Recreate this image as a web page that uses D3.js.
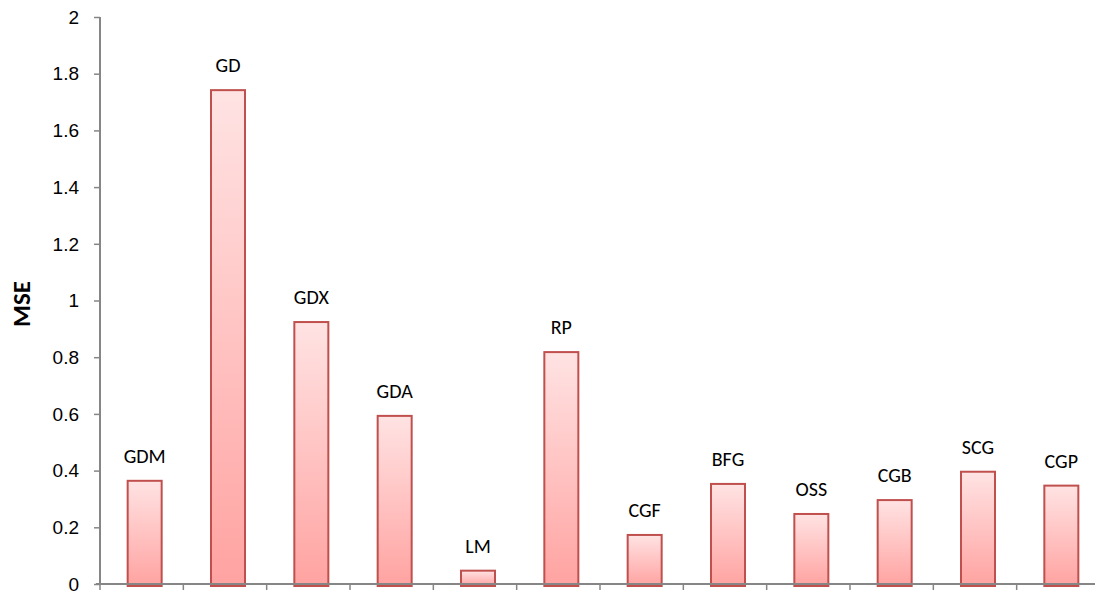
<!DOCTYPE html>
<html>
<head>
<meta charset="utf-8">
<script src="https://cdn.jsdelivr.net/npm/d3@7"></script>
<style>
  html, body { margin: 0; padding: 0; background: #fff; overflow: hidden; }
  svg { display: block; font-family: Carlito, "Open Sans", Lato, sans-serif; }
</style>
</head>
<body>
<svg id="chart" width="1095" height="593"></svg>
<script>
// Training algorithms and their mean squared error
const categories = ["GDM", "GD", "GDX", "GDA", "LM", "RP", "CGF", "BFG", "OSS", "CGB", "SCG", "CGP"];
const mseValues = [0.364, 1.742, 0.924, 0.593, 0.047, 0.818, 0.173, 0.353, 0.247, 0.296, 0.396, 0.347];
const yTicks = [0, 0.2, 0.4, 0.6, 0.8, 1, 1.2, 1.4, 1.6, 1.8, 2];

const svg = d3.select("#chart");
const axisColor = "#868686";

const x = d3.scaleBand().domain(categories).range([100, 1100]).paddingInner(0).paddingOuter(0);
const y = d3.scaleLinear().domain([0, 2]).range([584, 17]);

// Bar gradient: pale pink at the top, deeper salmon at the base
const defs = svg.append("defs");
const grad = defs.append("linearGradient")
  .attr("id", "barFill").attr("x1", 0).attr("y1", 0).attr("x2", 0).attr("y2", 1);
grad.append("stop").attr("offset", "0%").attr("stop-color", "#ffe3e3");
grad.append("stop").attr("offset", "100%").attr("stop-color", "#ffa3a1");

const barWidth = 34;
const barShift = 3;

// Y axis
const yAxis = d3.axisLeft(y).tickValues(yTicks).tickSize(6).tickPadding(15)
  .tickFormat(d3.format("~g"));
const gy = svg.append("g").attr("transform", "translate(100,0)").call(yAxis);
gy.select(".domain").attr("stroke", axisColor).attr("stroke-width", 2).attr("d", `M0,${y(2)}V${y(0)}`);
gy.selectAll(".tick line").attr("stroke", axisColor).attr("stroke-width", 1.5);
gy.selectAll(".tick text").attr("fill", "#000").style("font-size", "19px").attr("dy", "0.33em");

// Bars
const bars = svg.append("g");
bars.selectAll("rect").data(categories).join("rect")
  .attr("x", (d) => x(d) + x.bandwidth() / 2 - barWidth / 2 + barShift)
  .attr("y", (d, i) => y(mseValues[i]))
  .attr("width", barWidth)
  .attr("height", (d, i) => y(0) - y(mseValues[i]) + 2)
  .attr("fill", "url(#barFill)")
  .attr("stroke", "#c0504d")
  .attr("stroke-width", 2);

// X axis (category boundaries as ticks, no labels)
const gx = svg.append("g").attr("transform", `translate(0,${y(0)})`);
gx.append("line").attr("x1", 96).attr("x2", 1100).attr("y1", 0).attr("y2", 0)
  .attr("stroke", axisColor).attr("stroke-width", 2);
gx.selectAll("line.tk").data(categories).join("line").attr("class", "tk")
  .attr("x1", (d) => x(d)).attr("x2", (d) => x(d))
  .attr("y1", 0).attr("y2", 6)
  .attr("stroke", axisColor).attr("stroke-width", 1.5);

// Category labels above each bar
svg.append("g").selectAll("text").data(categories).join("text")
  .attr("x", (d) => x(d) + x.bandwidth() / 2 + barShift)
  .attr("y", (d, i) => y(mseValues[i]) - 18)
  .attr("text-anchor", "middle")
  .style("font-size", "20px")
  .attr("fill", "#000")
  .text((d) => d);

// Y axis title
svg.append("text")
  .attr("transform", `translate(30,304) rotate(-90)`)
  .attr("text-anchor", "middle")
  .style("font-size", "25px")
  .style("font-weight", "bold")
  .attr("fill", "#000")
  .text("MSE");
</script>
</body>
</html>
